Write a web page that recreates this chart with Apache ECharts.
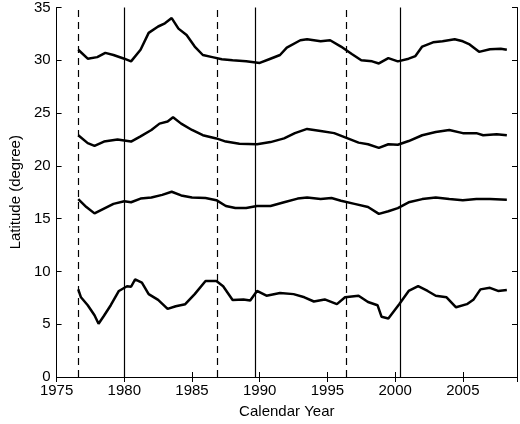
<!DOCTYPE html>
<html>
<head>
<meta charset="utf-8">
<script src="https://cdn.jsdelivr.net/npm/echarts@6/dist/echarts.min.js"></script>
<style>html,body{margin:0;padding:0;background:#fff}#main{width:520px;height:424px}</style>
</head>
<body>
<div id="main"></div>
<script>
// 读图估计的四条纬度曲线 [年份, 纬度]
const band1 = [[1976.6,31.0],[1977.3,30.15],[1978,30.3],[1978.6,30.7],[1979.2,30.5],[1980,30.15],[1980.5,29.9],[1981.2,31.0],[1981.8,32.6],[1982.5,33.2],[1983,33.5],[1983.5,34.0],[1984,33.0],[1984.6,32.4],[1985.2,31.3],[1985.8,30.5],[1986.5,30.3],[1987.2,30.1],[1988,30.0],[1989,29.9],[1990,29.75],[1990.7,30.1],[1991.5,30.5],[1992,31.2],[1993,31.9],[1993.5,32.0],[1994.5,31.8],[1995.2,31.9],[1996,31.3],[1996.8,30.6],[1997.5,30.0],[1998.3,29.9],[1998.8,29.7],[1999.5,30.2],[2000.2,29.9],[2001,30.15],[2001.5,30.4],[2002,31.3],[2002.8,31.7],[2003.5,31.8],[2004.4,32.0],[2005,31.8],[2005.5,31.5],[2006.2,30.8],[2007,31.05],[2007.8,31.1],[2008.25,31.0]]
const band2 = [[1976.6,22.9],[1977.3,22.15],[1977.8,21.9],[1978.5,22.3],[1979.5,22.5],[1980.5,22.3],[1981.2,22.8],[1982,23.4],[1982.6,24.0],[1983.2,24.2],[1983.6,24.6],[1984.2,24.0],[1985,23.4],[1985.8,22.9],[1986.8,22.6],[1987.5,22.3],[1988.5,22.1],[1989.8,22.05],[1990.8,22.25],[1991.8,22.6],[1992.6,23.1],[1993.5,23.5],[1994.5,23.3],[1995.5,23.1],[1996.5,22.6],[1997.3,22.2],[1998,22.05],[1998.8,21.7],[1999.5,22.05],[2000.2,22.0],[2001,22.35],[2002,22.9],[2003,23.2],[2004,23.4],[2005,23.1],[2006,23.1],[2006.5,22.9],[2007.5,23.0],[2008.25,22.9]]
const band3 = [[1976.6,16.85],[1977.2,16.1],[1977.8,15.5],[1978.5,15.95],[1979.2,16.4],[1980,16.65],[1980.5,16.55],[1981.2,16.9],[1982,17.0],[1982.8,17.25],[1983.5,17.55],[1984.2,17.2],[1985,17.0],[1986,16.95],[1986.8,16.75],[1987.5,16.2],[1988.2,16.0],[1989,16.0],[1989.8,16.2],[1990.8,16.2],[1991.8,16.55],[1992.8,16.9],[1993.5,17.0],[1994.5,16.85],[1995.3,16.95],[1996,16.7],[1997,16.4],[1998,16.1],[1998.8,15.45],[1999.5,15.7],[2000.2,16.0],[2001,16.55],[2002,16.85],[2003,17.0],[2004,16.85],[2005,16.75],[2006,16.85],[2007,16.85],[2008.25,16.8]]
const band4 = [[1976.6,8.3],[1976.8,7.55],[1977.3,6.8],[1977.8,5.85],[1978.1,5.05],[1978.5,5.8],[1979,6.8],[1979.6,8.15],[1980.2,8.6],[1980.5,8.55],[1980.8,9.25],[1981.3,8.95],[1981.8,7.85],[1982.5,7.3],[1983.2,6.45],[1983.8,6.7],[1984.5,6.9],[1985.2,7.85],[1986,9.1],[1986.8,9.1],[1987.3,8.6],[1988,7.3],[1988.8,7.35],[1989.3,7.25],[1989.8,8.15],[1990.5,7.7],[1991.5,7.95],[1992.5,7.85],[1993.3,7.55],[1994,7.15],[1994.8,7.35],[1995.7,6.9],[1996.3,7.55],[1997.3,7.7],[1998,7.1],[1998.7,6.8],[1999,5.7],[1999.5,5.55],[2000.3,6.9],[2001,8.15],[2001.7,8.6],[2002.4,8.15],[2003,7.7],[2003.8,7.55],[2004.5,6.6],[2005.3,6.9],[2005.8,7.35],[2006.3,8.3],[2007,8.45],[2007.6,8.15],[2008.25,8.25]]
// 太阳周期极小(虚线)与极大(实线)
const minima = [1976.6, 1986.9, 1996.4]
const maxima = [1980.0, 1989.65, 2000.4]

const font = 'Liberation Sans, Arial, sans-serif'
const axisLine = { show: true, lineStyle: { color: '#000', width: 1 } }
const tickIn = { show: true, inside: true, length: 5, lineStyle: { color: '#000' } }

const lines = [band1, band2, band3, band4].map((d, i) => ({
  type: 'line', data: d, showSymbol: false, smooth: false, silent: true,
  lineStyle: { color: '#000', width: 2.5 },
  markLine: i > 0 ? undefined : {
    symbol: 'none', silent: true, label: { show: false },
    data: minima.map(x => ({ xAxis: x, lineStyle: { type: [7, 5], color: '#000', width: 1.2 } }))
      .concat(maxima.map(x => ({ xAxis: x, lineStyle: { type: 'solid', color: '#000', width: 1.2 } })))
  }
}))

var myChart = echarts.init(document.getElementById('main'))
myChart.setOption({
  animation: false,
  grid: { left: 41, right: 3, top: 7, bottom: 41 },
  xAxis: [
    { type: 'value', min: 1975, max: 2009, interval: 5, axisLine, axisTick: tickIn, splitLine: { show: false },
      axisLabel: { color: '#000', fontSize: 15, fontFamily: font, margin: 6, showMaxLabel: false, formatter: v => String(v) },
      name: 'Calendar Year', nameLocation: 'middle', nameGap: 27,
      nameTextStyle: { color: '#000', fontSize: 15, fontFamily: font } },
    { type: 'value', position: 'top', min: 1975, max: 2009, interval: 5, axisLine, axisTick: tickIn,
      axisLabel: { show: false }, splitLine: { show: false } }
  ],
  yAxis: [
    { type: 'value', min: 0, max: 35, interval: 5, axisLine, axisTick: tickIn, splitLine: { show: false },
      axisLabel: { color: '#000', fontSize: 15, fontFamily: font, margin: 6 },
      name: 'Latitude (degree)', nameLocation: 'middle', nameGap: 30, nameRotate: 90,
      nameTextStyle: { color: '#000', fontSize: 15, fontFamily: font } },
    { type: 'value', position: 'right', min: 0, max: 35, interval: 5, axisLine, axisTick: tickIn,
      axisLabel: { show: false }, splitLine: { show: false } }
  ],
  series: lines
})
</script>
</body>
</html>
